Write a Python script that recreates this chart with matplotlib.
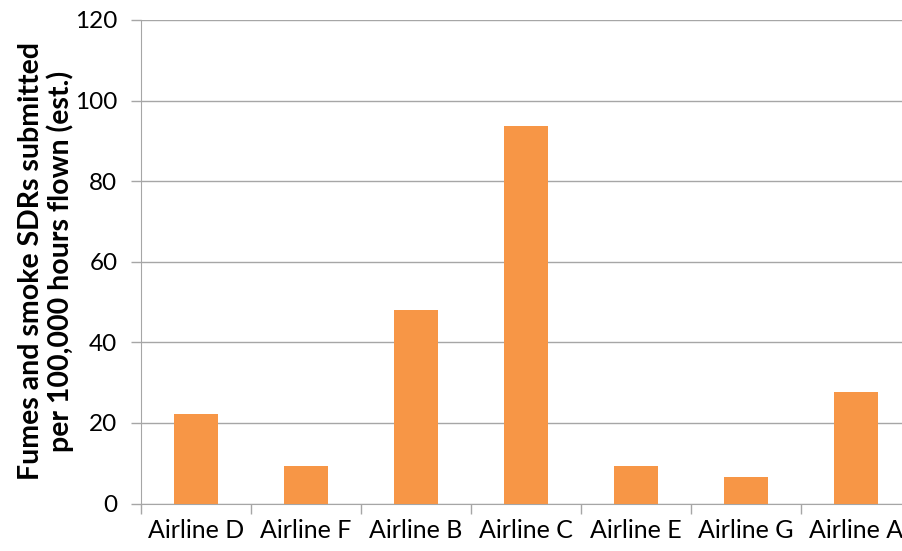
import numpy as np
import matplotlib
matplotlib.use("Agg")
from matplotlib import pyplot as plt

airlines = ["Airline D", "Airline F", "Airline B", "Airline C", "Airline E", "Airline G", "Airline A"]
sdr_rate = [22.3, 9.2, 48.1, 93.7, 9.4, 6.6, 27.7]
y_ticks = [0, 20, 40, 60, 80, 100, 120]

plt.rcParams['font.family'] = ['Lato', 'DejaVu Sans']

fig = plt.figure(figsize=(9.02, 5.51), dpi=100)
# plot area runs slightly past the right edge, as in the original
ax = fig.add_axes([141 / 902, 1 - 503.5 / 551, 770 / 902, 483.5 / 551])

x = np.arange(len(airlines))
ax.bar(x, sdr_rate, width=0.4, color="#F79646", zorder=3)

ax.set_xlim(-0.5, len(airlines) - 0.5)
ax.set_ylim(0, 120)
ax.set_yticks(y_ticks)
ax.yaxis.grid(True, color="#A6A6A6", linewidth=1.0, zorder=0)

# category labels centred, tick marks on the boundaries
ax.set_xticks(x)
ax.set_xticklabels(airlines, fontsize=18)
ax.tick_params(axis="x", length=0, pad=11)
ax.set_xticks(np.arange(len(airlines) + 1) - 0.5, minor=True)
ax.tick_params(axis="x", which="minor", length=7, color="#A6A6A6", width=1)
ax.tick_params(axis="y", length=7, color="#A6A6A6", width=1, labelsize=17.5, pad=10)

for side in ["top", "right"]:
    ax.spines[side].set_visible(False)
for side in ["left", "bottom"]:
    ax.spines[side].set_color("#A6A6A6")

fig.text(46 / 902, 1 - 261 / 551,
         "Fumes and smoke SDRs submitted\nper 100,000 hours flown (est.)",
         rotation=90, ha="center", va="center", fontsize=20.5,
         fontweight="bold", linespacing=1.1)

fig.savefig("out.png", dpi=100)
